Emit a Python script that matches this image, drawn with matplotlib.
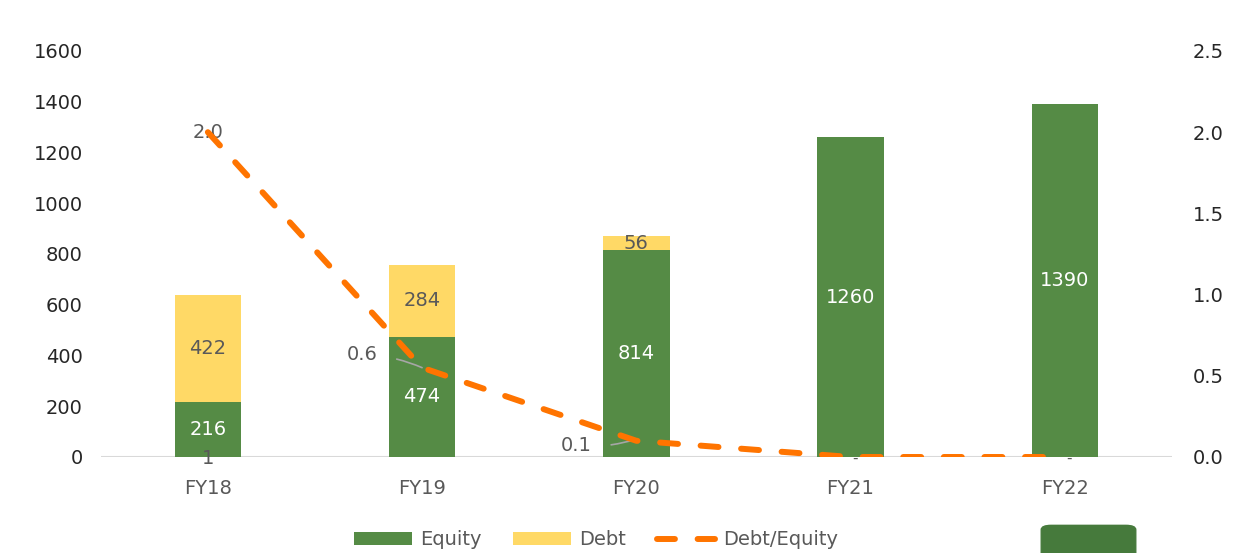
import matplotlib.pyplot as plt
from matplotlib.patches import FancyBboxPatch

years = ['FY18', 'FY19', 'FY20', 'FY21', 'FY22']
equity = [216, 474, 814, 1260, 1390]
debt = [422, 284, 56, 0, 0]
debt_equity = [2.0, 0.55, 0.1, 0.0, 0.0]
de_labels = ['2.0', '0.6', '0.1', '', '']

green = '#558B45'
yellow = '#FFD966'
orange = '#FF7400'
grey = '#595959'

plt.rcParams['font.family'] = ['DejaVu Sans']

fig = plt.figure(figsize=(12.44, 5.53), dpi=100)
ax = fig.add_axes([0.081, 0.1736, 0.861, 0.7342])
ax2 = ax.twinx()

x = list(range(len(years)))
ax.bar(x, equity, width=0.31, color=green, label='Equity', zorder=2)
ax.bar(x, debt, width=0.31, bottom=equity, color=yellow, label='Debt', zorder=2)

ax.set_ylim(0, 1600)
ax.set_xlim(-0.5, 4.5)
ax.set_yticks(range(0, 1601, 200))
ax.set_xticks(x)
ax.set_xticklabels(years)
ax2.set_ylim(0, 2.5)
ax2.set_yticks([0, 0.5, 1.0, 1.5, 2.0, 2.5])
ax2.set_yticklabels(['0.0', '0.5', '1.0', '1.5', '2.0', '2.5'])

for a in (ax, ax2):
    for s in a.spines.values():
        s.set_visible(False)
    a.tick_params(length=0, labelsize=14, colors='#262626')
ax.tick_params(axis='x', colors=grey, pad=16)
ax.tick_params(axis='y', pad=13)
ax2.tick_params(axis='y', pad=15)
ax.axhline(0, color='#D9D9D9', lw=1.5, zorder=1)

# bar value labels
for i in x:
    ax.text(i, equity[i] / 2, str(equity[i]), ha='center', va='center',
            color='white', fontsize=14, zorder=3)
    if debt[i] > 0:
        ax.text(i, equity[i] + debt[i] / 2, str(debt[i]), ha='center',
                va='center', color=grey, fontsize=14, zorder=3)
    else:
        ax.text(i + 0.02, -4, '-', ha='center', va='center', color=grey,
                fontsize=11, zorder=3)
ax.text(0, -5, '1', ha='center', va='center', color=grey, fontsize=14, zorder=3)

line, = ax2.plot(x, debt_equity, color=orange, lw=4.3, ls=(0, (3.0, 3.8)),
                 dash_capstyle='round', label='Debt/Equity', zorder=4)

# debt/equity labels
ax2.text(0, 2.0, de_labels[0], ha='center', va='center', color=grey,
         fontsize=14, zorder=3)
ax2.annotate(de_labels[1], xy=(1, 0.55), xytext=(0.72, 0.63),
             ha='center', va='center', color=grey, fontsize=14,
             arrowprops=dict(arrowstyle='-', color='#A6A6A6', lw=1.2,
                             connectionstyle='arc3,rad=-0.1',
                             shrinkA=12, shrinkB=0))
ax2.annotate(de_labels[2], xy=(2.0, 0.11), xytext=(1.72, 0.07),
             ha='center', va='center', color=grey, fontsize=14,
             arrowprops=dict(arrowstyle='-', color='#A6A6A6', lw=1.2,
                             connectionstyle='arc3,rad=0.1',
                             shrinkA=12, shrinkB=0))

h1, l1 = ax.get_legend_handles_labels()
leg = fig.legend(h1 + [line], l1 + ['Debt/Equity'], loc='lower center',
                 bbox_to_anchor=(0.479, -0.025), ncol=3, frameon=False,
                 fontsize=14, handlelength=3.0, handleheight=0.67,
                 handletextpad=0.4, columnspacing=1.6, labelcolor=grey)

fig.patches.append(FancyBboxPatch((0.837, -0.05), 0.076, 0.1,
                                  boxstyle='round,pad=0,rounding_size=0.008',
                                  transform=fig.transFigure, color='#467A3C'))

fig.savefig('out.png', dpi=100)
